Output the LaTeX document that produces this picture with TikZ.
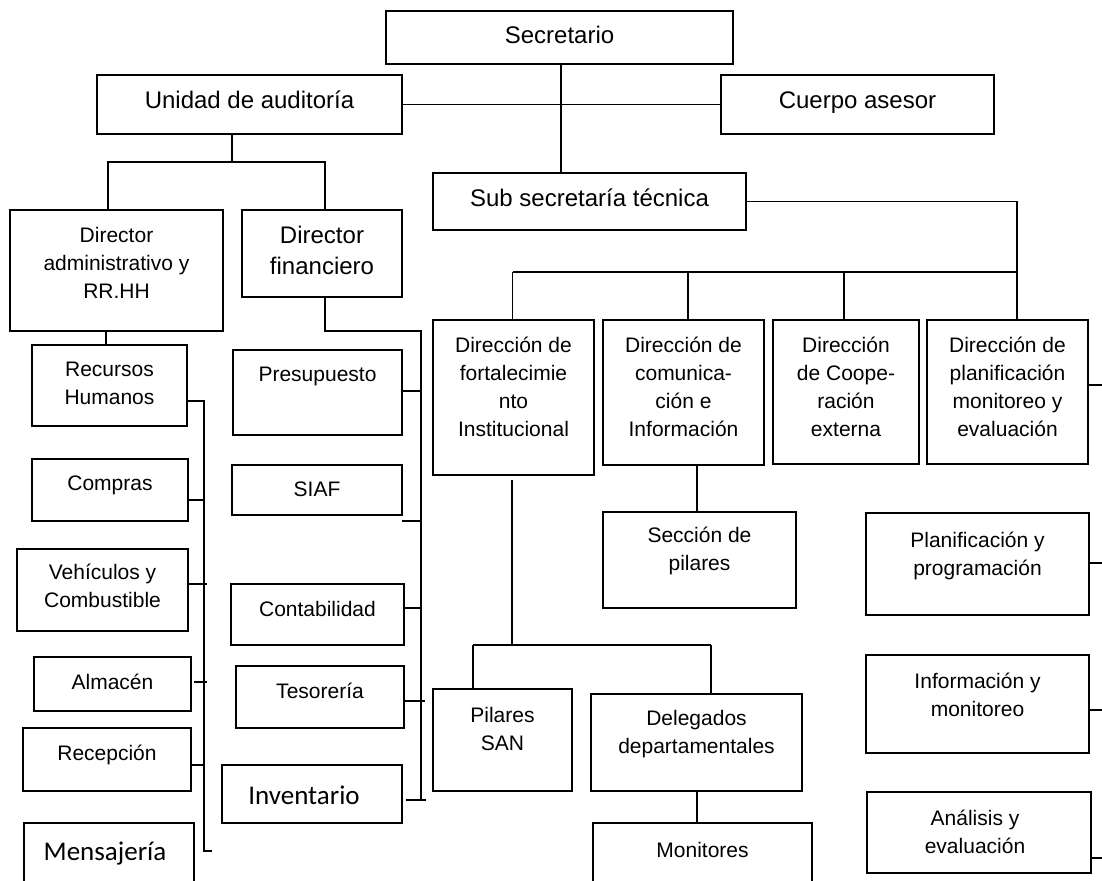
\documentclass[tikz,border=0pt]{standalone}
\usepackage{fontspec}
\setmainfont{Liberation Sans}
\newfontfamily\carl{Carlito}
\newcommand\ml[1]{\begin{tabular}[t]{@{}c@{}}#1\end{tabular}}
\tikzset{
  boxst/.style={draw, line width=1.5pt, inner sep=0pt, outer sep=0pt, anchor=north west},
  big/.style={font=\fontsize{24}{31.7}\selectfont},
  sml/.style={font=\fontsize{21}{28}\selectfont},
  cal/.style={font=\carl\fontsize{27}{32}\selectfont},
  wire/.style={line width=1.5pt},
}
% #1 style, #2 dx, #3 name, #4 x0, #5 y0, #6 x1, #7 y1, #8 first baseline, #9 text
\newcommand\bx[9]{%
  \pgfmathsetmacro\bw{#6-#4}\pgfmathsetmacro\bh{#7-#5}%
  \node[boxst, minimum width=\bw pt, minimum height=\bh pt] (#3) at (#4,#5) {};%
  \node[anchor=base, inner sep=0pt, #1] (#3t) at ({(#4+#6)/2+#2},#8) {\ml{#9}};%
}
\begin{document}
\begin{tikzpicture}[x=1pt,y=-1pt]
\useasboundingbox (0,0) rectangle (1102,880);
\begin{scope}
\clip (0,0) rectangle (1102,880);
% top
\bx{big}{0}{sec}{386}{11}{733}{64}{44}{Secretario}
\bx{big}{0}{ua}{97}{75}{402}{134}{109}{Unidad de auditoría}
\bx{big}{0}{ca}{721}{75}{994}{134}{109}{Cuerpo asesor}
\bx{big}{0}{sub}{433}{173}{746}{230}{206.5}{Sub secretaría técnica}
\bx{sml}{0}{da}{10}{210}{223}{331}{242}{Director\\administrativo y\\RR.HH}
\bx{big}{0}{df}{242}{210}{402}{297}{243}{Director\\financiero}
% left column
\bx{sml}{0}{rh}{32}{345}{187}{426}{376}{Recursos\\Humanos}
\bx{sml}{0}{co}{32}{459}{188}{521}{490}{Compras}
\bx{sml}{0}{ve}{17}{549}{188}{631}{579}{Vehículos y\\Combustible}
\bx{sml}{0}{al}{34}{657}{191}{711}{689}{Almacén}
\bx{sml}{0}{re}{23}{728}{191}{791}{760}{Recepción}
\bx{cal}{-4}{me}{24}{823}{194}{900}{860}{Mensajería}
% finance column
\bx{sml}{0}{pr}{233}{350}{402}{435}{381}{Presupuesto}
\bx{sml}{0}{si}{232}{465}{402}{515}{496}{SIAF}
\bx{sml}{0}{cn}{231}{584}{404}{645}{616}{Contabilidad}
\bx{sml}{0}{te}{236}{666}{404}{728}{698}{Tesorería}
\bx{cal}{-8}{in}{222}{765}{402}{823}{804}{Inventario}
% directions
\bx{sml}{0}{dfo}{433}{320}{594}{475}{352}{Dirección de\\fortalecimie\\nto\\Institucional}
\bx{sml}{0}{dco}{603}{320}{764}{465}{352}{Dirección de\\comunica-\\ción e\\Información}
\bx{sml}{0}{dcp}{773}{320}{919}{464}{352}{Dirección\\de Coope-\\ración\\externa}
\bx{sml}{0}{dpl}{927}{320}{1088}{464}{352}{Dirección de\\planificación\\monitoreo y\\evaluación}
\bx{sml}{0}{se}{603}{512}{796}{608}{542}{Sección de\\pilares}
\bx{sml}{0}{ps}{433}{689}{572}{791}{722}{Pilares\\SAN}
\bx{sml}{0}{dg}{591}{694}{802}{791}{725}{Delegados\\departamentales}
\bx{sml}{0}{mo}{593}{823}{812}{900}{857}{Monitores}
\bx{sml}{0}{pp}{866}{513}{1089}{615}{547}{Planificación y\\programación}
\bx{sml}{0}{im}{866}{655}{1089}{753}{688}{Información y\\monitoreo}
\bx{sml}{-4}{ae}{867}{792}{1091}{873}{825}{Análisis y\\evaluación}
% junction coordinates
\coordinate (p1) at (561,0);
\coordinate (j1) at (232,162);
\coordinate (j1a) at (108,162);
\coordinate (j1b) at (325,162);
\coordinate (fbT) at (421,331);
\coordinate (fbB) at (421,800);
\coordinate (tpr) at (421,391);
\coordinate (tsi) at (421,521);
\coordinate (tcn) at (421,608);
\coordinate (tte) at (425,701);
\coordinate (tin) at (426,800);
\coordinate (jrh) at (106,0);
\coordinate (rbT) at (204,401);
\coordinate (rbB) at (204,851);
\coordinate (rbE) at (212,851);
\coordinate (tco) at (204,500);
\coordinate (tve) at (207,584);
\coordinate (tal) at (207,682);
\coordinate (tre) at (204,765);
\coordinate (sb1) at (1017,201.5);
\coordinate (bL) at (512.5,272);
\coordinate (bR) at (1017,272);
\coordinate (bc) at (688,272);
\coordinate (bd) at (844,272);
\coordinate (fv) at (512,480);
\coordinate (fj) at (512,645);
\coordinate (fL) at (473,645);
\coordinate (fR) at (711,645);
\coordinate (sc) at (697,0);
\coordinate (tdpl) at (1110,385);
\coordinate (tpp) at (1110,563);
\coordinate (tim) at (1110,710);
\coordinate (tae) at (1110,858);
% connectors
\draw[wire] (sec.south -| p1) -- (sub.north -| p1);
\draw[wire] (ua.east) -- (ca.west);
\draw[wire] (ua.south -| j1) -- (j1);
\draw[wire] (da.north -| j1a) -- (j1a) -- (j1b) -- (df.north -| j1b);
\draw[wire] (df.south -| j1b) -- (j1b |- fbT) -- (fbT) -- (fbB);
\draw[wire] (pr.east |- tpr) -- (tpr);
\draw[wire] (si.east |- tsi) -- (tsi);
\draw[wire] (cn.east |- tcn) -- (tcn);
\draw[wire] (te.east |- tte) -- (tte);
\draw[wire] ([xshift=4pt]in.east |- tin) -- (tin);
\draw[wire] (da.south -| jrh) -- (rh.north -| jrh);
\draw[wire] (rh.east |- rbT) -- (rbT) -- (rbB) -- (rbE);
\draw[wire] (co.east |- tco) -- (tco);
\draw[wire] (ve.east |- tve) -- (tve);
\draw[wire] ([xshift=3pt]al.east |- tal) -- (tal);
\draw[wire] (re.east |- tre) -- (tre);
\draw[wire] (sub.east |- sb1) -- (sb1) -- (dpl.north -| sb1);
\draw[wire] (bL) -- (bR);
\draw[wire] (bL) -- (dfo.north -| bL);
\draw[wire] (bc) -- (dco.north -| bc);
\draw[wire] (bd) -- (dcp.north -| bd);
\draw[wire] (fv) -- (fj);
\draw[wire] (fL) -- (fR);
\draw[wire] (fL) -- (ps.north -| fL);
\draw[wire] (fR) -- (dg.north -| fR);
\draw[wire] (dco.south -| sc) -- (se.north -| sc);
\draw[wire] (dg.south -| sc) -- (mo.north -| sc);
\draw[wire] (dpl.east |- tdpl) -- (tdpl);
\draw[wire] (pp.east |- tpp) -- (tpp);
\draw[wire] (im.east |- tim) -- (tim);
\draw[wire] (ae.east |- tae) -- (tae);
\end{scope}
\end{tikzpicture}
\end{document}
